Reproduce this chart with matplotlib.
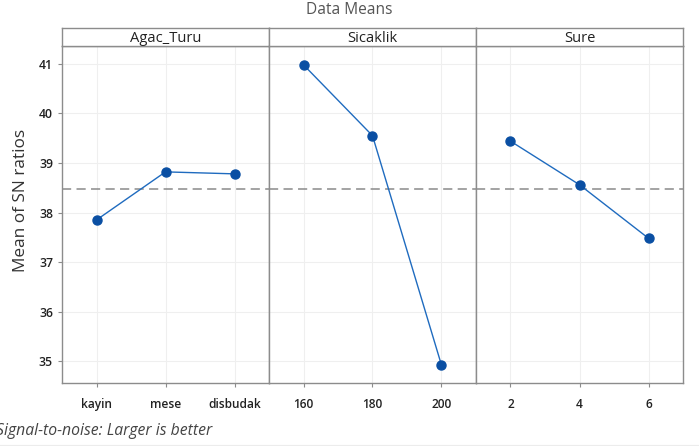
import matplotlib
matplotlib.use("Agg")
import matplotlib.pyplot as plt
from matplotlib.lines import Line2D

plt.rcParams['font.family'] = ['Open Sans', 'DejaVu Sans']

# Main effects of S/N ratios per factor
factors = ["Agac_Turu", "Sicaklik", "Sure"]
agac_levels = ["kayin", "mese", "disbudak"]
agac_means = [37.85, 38.82, 38.78]
sicaklik_levels = ["160", "180", "200"]
sicaklik_means = [40.98, 39.55, 34.92]
sure_levels = ["2", "4", "6"]
sure_means = [39.44, 38.56, 37.48]
overall_mean = 38.48
y_ticks = [35, 36, 37, 38, 39, 40, 41]

levels = [agac_levels, sicaklik_levels, sure_levels]
means = [agac_means, sicaklik_means, sure_means]

fig = plt.figure(figsize=(6.99, 4.46), dpi=100)
left, right = 62 / 699, 683 / 699
bottom, top = 1 - 383 / 446, 1 - 46 / 446
strip_h = 18 / 446
w = (right - left) / 3

spine_col = "#8c8c8c"
line_col = "#1f6bbf"
marker_col = "#0a4fa3"

axes = []
for i in range(3):
    ax = fig.add_axes([left + i * w, bottom, w, top - bottom],
                      sharey=axes[0] if axes else None)
    axes.append(ax)
    x = list(range(1, len(levels[i]) + 1))
    ax.plot(x, means[i], color=line_col, lw=1.0, zorder=3)
    ax.plot(x, means[i], 'o', color=marker_col, ms=6.5, zorder=4)
    ax.axhline(overall_mean, color="#8a8a8a", lw=1.1, ls=(0, (6, 3.5)), zorder=2)
    ax.set_xlim(0.5, 3.5)
    ax.set_ylim(34.56, 41.36)
    ax.set_xticks(x)
    ax.set_xticklabels(levels[i], fontsize=8.6, color="#222222",
                       fontweight="semibold")
    ax.set_yticks(y_ticks)
    ax.grid(True, color="#efefef", lw=0.8, zorder=0)
    ax.set_axisbelow(True)
    for s in ax.spines.values():
        s.set_color(spine_col)
        s.set_linewidth(1.0)
    ax.tick_params(axis='x', colors=spine_col, length=3, width=0.8,
                   labelcolor="#222222", pad=8)
    if i == 0:
        ax.tick_params(axis='y', colors=spine_col, length=3, width=0.8,
                       labelcolor="#222222", labelsize=8.8)
        for lab in ax.get_yticklabels():
            lab.set_fontweight("semibold")
    else:
        ax.tick_params(axis='y', left=False, labelleft=False)

    # facet strip
    strip = fig.add_axes([left + i * w, top, w, strip_h])
    strip.set_xticks([])
    strip.set_yticks([])
    for s in strip.spines.values():
        s.set_color(spine_col)
        s.set_linewidth(1.0)
    strip.text(0.5, 0.42, factors[i], ha="center", va="center",
               fontsize=10.6, color="#222222", transform=strip.transAxes)

axes[0].set_ylabel("Mean of SN ratios", fontsize=12.4, color="#333333")
axes[0].yaxis.set_label_coords(-0.16, 0.543)

fig.text(0.5, 1 - 10 / 446, "Data Means", ha="center", va="center",
         fontsize=11.2, color="#555555")
fig.text(-0.006, 1 - 431 / 446, "Signal-to-noise: Larger is better",
         ha="left", va="center", fontsize=11.3, color="#444444", style="italic")
fig.add_artist(Line2D([0, 1], [1 - 445 / 446] * 2, color="#ececec", lw=0.8,
                      transform=fig.transFigure))

fig.savefig("out.png", dpi=100)
